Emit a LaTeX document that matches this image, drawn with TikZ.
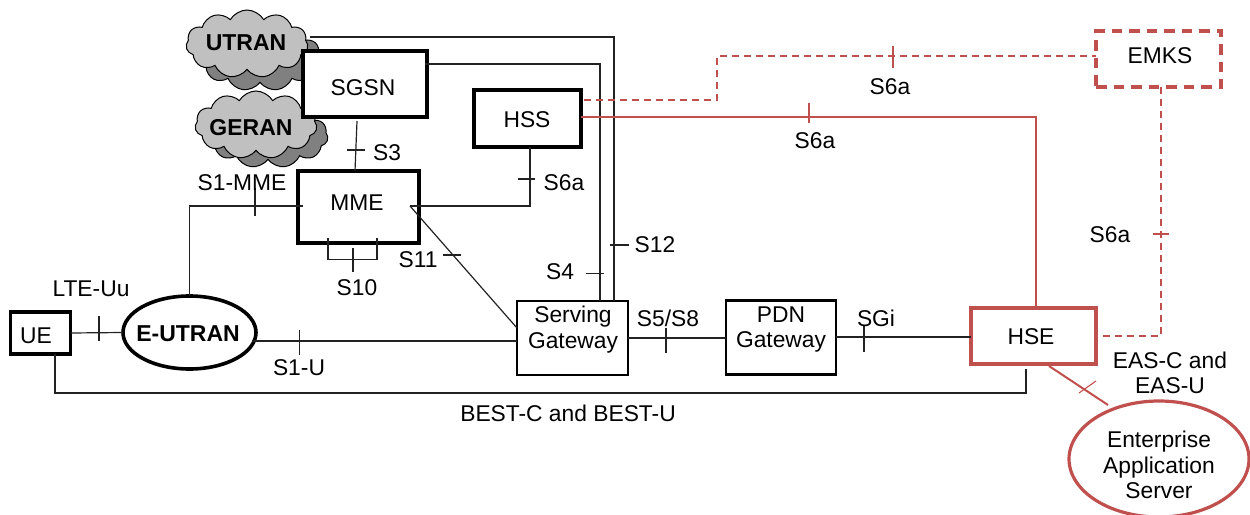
\documentclass[tikz,border=0pt]{standalone}
\usepackage{fontspec}
\setmainfont{Liberation Sans}
\usetikzlibrary{shapes.geometric,shapes.symbols,calc}
\definecolor{redc}{HTML}{C0504D}
\definecolor{cloudl}{HTML}{C0C0C0}
\definecolor{cloudd}{HTML}{808080}
\definecolor{linec}{HTML}{222222}
\tikzset{
  every node/.style={font=\fontsize{22.8}{25.5}\selectfont,text=black,inner sep=0pt,outer sep=0pt},
  thickbox/.style={draw=black,fill=white,line width=3.6pt,rectangle,align=center},
  midbox/.style={draw=black,fill=white,line width=2.4pt,rectangle,align=center},
  redbox/.style={draw=redc,fill=white,line width=4pt,rectangle,align=center},
  redashbox/.style={draw=redc,fill=white,line width=4pt,rectangle,dash pattern=on 10.5pt off 7pt,align=center},
  oval/.style={draw=black,fill=white,line width=3.6pt,ellipse},
  redoval/.style={draw=redc,fill=white,line width=3.2pt,ellipse,align=center},
  link/.style={draw=linec,line width=1.2pt},
  redlink/.style={draw=redc,line width=2pt},
  reddash/.style={draw=redc,line width=1.7pt,dash pattern=on 7pt off 5pt},
  tick/.style={draw=linec,line width=1.1pt},
  redtick/.style={draw=redc,line width=1.1pt},
  cloudfront/.style={draw=black,fill=cloudl,line width=1pt,cloud,cloud puffs=11,cloud puff arc=120,aspect=1.8},
  cloudback/.style={draw=black,fill=cloudd,line width=1pt,cloud,cloud puffs=11,cloud puff arc=120,aspect=1.8},
  lbl/.style={}
}
\begin{document}
\begin{tikzpicture}[x=1pt,y=-1pt]
\useasboundingbox (0,0) rectangle (1250,514);
% clouds
\node[cloudback,minimum width=122pt,minimum height=68pt] (utranb) at (260,57) {};
\node[cloudfront,minimum width=122pt,minimum height=68pt] (utranf) at (247,44) {};
\node[font=\fontsize{23}{26}\selectfont\bfseries] (utran) at (246,43) {UTRAN};
\node[cloudback,minimum width=120pt,minimum height=64pt] (geranb) at (268,136) {};
\node[cloudfront,minimum width=122pt,minimum height=68pt] (geranf) at (256,125) {};
\node[font=\fontsize{23}{26}\selectfont\bfseries] (geran) at (251,128) {GERAN};
% boxes
\node[thickbox,minimum width=124pt,minimum height=66pt] (sgsn) at (365,84) {};
\node (sgsnt) at (363,88) {SGSN};
\node[thickbox,minimum width=121pt,minimum height=72pt] (mme) at (358.5,207) {};
\node (mmet) at (357,203) {MME};
\node[thickbox,minimum width=107pt,minimum height=57pt] (hss) at (527.5,118.5) {};
\node (hsst) at (527,120) {HSS};
\node[thickbox,minimum width=60pt,minimum height=42pt] (ue) at (40.5,333) {};
\node (uet) at (36,336) {UE};
\node[oval,minimum width=133pt,minimum height=73pt] (eut) at (189.5,332.5) {};
\node[font=\fontsize{23}{26}\selectfont\bfseries] (eutt) at (188,334) {E-UTRAN};
\node[midbox,minimum width=111pt,minimum height=74pt] (sgw) at (572.5,338) {};
\node (sgwt) at (573,329.5) [align=center] {Serving\\Gateway};
\node[midbox,minimum width=110pt,minimum height=74pt] (pdn) at (781,337.5) {};
\node (pdnt) at (781,329.5) [align=center] {PDN\\Gateway};
\node[redbox,minimum width=125pt,minimum height=56pt] (hse) at (1033.5,336) {};
\node (hset) at (1031,337) {HSE};
\node[redashbox,minimum width=125pt,minimum height=56pt] (emks) at (1158.5,59) {};
\node (emkst) at (1160,56) {EMKS};
\node[redoval,minimum width=180pt,minimum height=116pt] (eas) at (1159,459) {};
\node (east) at (1159,465) [align=center] {Enterprise\\Application\\Server};
% connector end points
\coordinate (sgsnl) at (425,64);
\coordinate (sgwa) at (600,301);
\coordinate (sgwb) at (614,301);
\coordinate (utl) at (310,37);
\coordinate (mmein) at (410,206);
\coordinate (mmeout) at (303,206);
\coordinate (s10a) at (328,238);
\coordinate (s10b) at (377,238);
\coordinate (s3a) at (357,121);
\coordinate (s3b) at (355,171);
\coordinate (ueb) at (55,354);
\coordinate (hseb) at (1026,369);
\coordinate (hssb) at (530,147);
\coordinate (hssr) at (581,116.5);
\coordinate (hseu) at (1036,308);
\coordinate (hssd) at (584,100);
\coordinate (emd) at (1161,87);
\coordinate (emkl) at (1096,56);
\coordinate (hser) at (1100,336);
\coordinate (hsed) at (1049,366);
\coordinate (easn) at (1108,405);
\coordinate (sgwm) at (517,328);
\coordinate (sgwu) at (517,341);
\coordinate (sgwr) at (628,338);
\coordinate (pdnl) at (726,338);
\coordinate (pdnr) at (836,337);
\coordinate (hsel) at (971,337);
\coordinate (eutu) at (252,341);
% connectors
\draw[link] (ue.east) -- (eut.west);
\draw[link] (eut.north) |- (mmeout);
\draw[link] (eutu) -- (sgwu);
\draw[link] (ueb) -- (55,393) -- (1026,393) -- (hseb);
\draw[link] (s3a) -- (s3b);
\draw[link] (s10a) -- (328,259.5) -- (377,259.5) -- (s10b);
\draw[link] (mmein) -| (hssb);
\draw[link] (mmein) -- (sgwm);
\draw[link] (sgsnl) -| (sgwa);
\draw[link] (utl) -| (sgwb);
\draw[link] (sgwr) -- (pdnl);
\draw[link] (pdnr) -- (hsel);
\draw[redlink] (hssr) -| (hseu);
\draw[reddash] (hssd) -- (717,100) -- (717,56) -- (emkl);
\draw[reddash] (emd) -- (1161,336) -- (hser);
\draw[redlink] (hsed) -- (easn);
% ticks
\draw[tick] (99,316) -- (99,341);
\draw[tick] (255,188) -- (255,216);
\draw[tick] (299.5,330) -- (299.5,355);
\draw[tick] (347,150) -- (365,150);
\draw[tick] (353,248) -- (353,272);
\draw[tick] (518,179) -- (535,179);
\draw[tick] (443,255) -- (461,255);
\draw[tick] (586,273.5) -- (604,273.5);
\draw[tick] (610,245) -- (629,245);
\draw[tick] (666,328) -- (666,353);
\draw[tick] (864,326) -- (864,352);
\draw[redtick] (809,103) -- (809,123);
\draw[redtick] (893,46) -- (893,68);
\draw[redtick] (1153,234) -- (1169,234);
\draw[redtick] (1079,393) -- (1096,381);
% labels
\node[lbl] (l1) at (91,289) {LTE-Uu};
\node[lbl] (l2) at (242,183) {S1-MME};
\node[lbl] (l3) at (387,153) {S3};
\node[lbl] (l4) at (357,288) {S10};
\node[lbl] (l5) at (564,183) {S6a};
\node[lbl] (l6) at (418,260) {S11};
\node[lbl] (l7) at (560,272) {S4};
\node[lbl] (l8) at (655,245) {S12};
\node[lbl] (l9) at (299,368) {S1-U};
\node[lbl] (l10) at (668,318) {S5/S8};
\node[lbl] (l11) at (876,318) {SGi};
\node[lbl] (l12) at (815,141) {S6a};
\node[lbl] (l13) at (890,87) {S6a};
\node[lbl] (l14) at (1110,235) {S6a};
\node[lbl] (l15) at (568,413) {BEST-C and BEST-U};
\node[lbl,align=center] (l16) at (1170,373) {EAS-C and\\EAS-U};
\end{tikzpicture}
\end{document}
